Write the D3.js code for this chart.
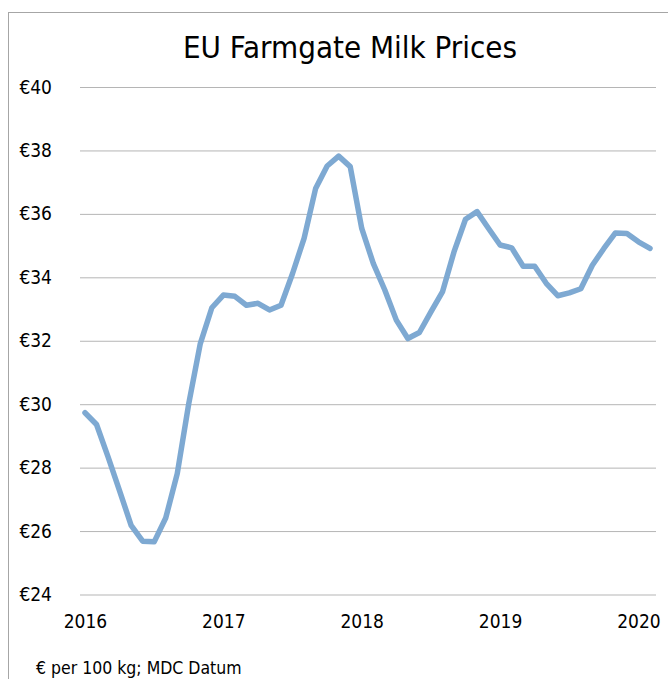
<!DOCTYPE html>
<html>
<head>
<meta charset="utf-8">
<script src="https://cdn.jsdelivr.net/npm/d3@7"></script>
<style>
  body { margin: 0; background: #fff; }
  svg { display: block; font-family: "DejaVu Sans Condensed", "DejaVu Sans", sans-serif; }
</style>
</head>
<body>
<div id="chart"></div>
<script>
// monthly EU farmgate milk price, Jan 2016 .. Feb 2020 (euro per 100 kg)
var prices = [
  29.73, 29.36, 28.34, 27.27, 26.18, 25.68, 25.66, 26.41, 27.81, 30.02, 31.91, 33.04,
  33.44, 33.40, 33.12, 33.18, 32.97, 33.12, 34.12, 35.23, 36.80, 37.51, 37.82, 37.49,
  35.54, 34.44, 33.60, 32.65, 32.07, 32.26, 32.91, 33.54, 34.80, 35.83, 36.07, 35.54,
  35.02, 34.93, 34.35, 34.35, 33.81, 33.42, 33.51, 33.64, 34.38, 34.91, 35.40, 35.38,
  35.12, 34.91
];
var yearLabels = ["2016", "2017", "2018", "2019", "2020"];
var yearIndex = [0, 12, 24, 36, 48];   // month index of each January
var yTicks = [24, 26, 28, 30, 32, 34, 36, 38, 40];

function drawChart() {
    var W = 668, H = 679;
    var plot = {left: 80, right: 656, top: 87, bottom: 594.5};

    var svg = d3.select("#chart").append("svg")
        .attr("width", W)
        .attr("height", H);

    // outer frame (runs off the right and bottom edge)
    svg.append("rect")
        .attr("x", 8.5).attr("y", 12.5)
        .attr("width", 800).attr("height", 800)
        .attr("fill", "none")
        .attr("stroke", "#a6a6a6");

    var x = d3.scaleLinear()
        .domain([0, prices.length - 1])
        .range([85, 650]);

    var y = d3.scaleLinear()
        .domain([24, 40])
        .range([plot.bottom, plot.top]);

    // title
    svg.append("text")
        .attr("x", 350).attr("y", 58)
        .attr("text-anchor", "middle")
        .attr("font-size", 31)
        .attr("fill", "#000")
        .text("EU Farmgate Milk Prices");

    // y axis with gridlines
    var gy = svg.append("g")
        .attr("transform", "translate(" + plot.left + ",0)")
        .call(d3.axisLeft(y)
            .tickValues(yTicks)
            .tickSize(-(plot.right - plot.left))
            .tickPadding(28)
            .tickFormat(function(d) { return "\u20ac" + d; }));
    gy.select(".domain").remove();
    gy.selectAll(".tick line").attr("stroke", "#b5b5b5");
    gy.selectAll(".tick text")
        .attr("font-size", 19)
        .attr("font-family", "DejaVu Sans Condensed, DejaVu Sans, sans-serif")
        .attr("fill", "#000");

    // x axis, years only
    var gx = svg.append("g")
        .attr("transform", "translate(0," + plot.bottom + ")")
        .call(d3.axisBottom(x)
            .tickValues(yearIndex)
            .tickSize(0)
            .tickFormat(function(d, i) { return yearLabels[i]; }));
    gx.select(".domain").remove();
    gx.selectAll(".tick text")
        .attr("y", 27)
        .attr("dy", "0.35em")
        .attr("font-size", 19)
        .attr("font-family", "DejaVu Sans Condensed, DejaVu Sans, sans-serif")
        .attr("fill", "#000");

    // the price line
    var line = d3.line()
        .x(function(d, i) { return x(i); })
        .y(function(d) { return y(d); });

    svg.append("path")
        .datum(prices)
        .attr("fill", "none")
        .attr("stroke", "#7ea9d2")
        .attr("stroke-width", 5.5)
        .attr("stroke-linejoin", "round")
        .attr("stroke-linecap", "round")
        .attr("d", line);

    // source note
    svg.append("text")
        .attr("x", 36).attr("y", 674)
        .attr("font-size", 17.5)
        .attr("fill", "#000")
        .text("\u20ac per 100 kg; MDC Datum");
}

drawChart();
</script>
</body>
</html>
